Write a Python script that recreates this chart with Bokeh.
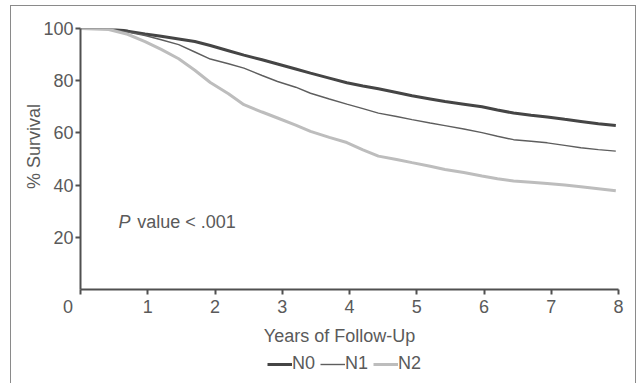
from bokeh.plotting import figure
from bokeh.models import Legend, LegendItem, Label, FixedTicker, Range1d
from bokeh.layouts import column
from bokeh.embed import file_html
from bokeh.resources import INLINE

years = [0, 0.42, 0.7, 0.96, 1.2, 1.46, 1.7, 1.93, 2.2, 2.43, 2.7, 2.93, 3.2, 3.42, 3.7, 3.96,
         4.2, 4.43, 4.7, 4.93, 5.2, 5.42, 5.7, 5.97, 6.2, 6.44, 6.7, 6.94, 7.2, 7.44, 7.7, 7.96]
n0 = [100, 100, 99.0, 97.9, 97.0, 96.0, 95.0, 93.5, 91.5, 89.8, 88.0, 86.4, 84.5, 82.9, 81.0, 79.2,
      78.0, 76.9, 75.5, 74.2, 73.0, 72.0, 71.0, 70.0, 68.8, 67.6, 66.8, 66.1, 65.2, 64.4, 63.5, 62.8]
n1 = [100, 99.8, 98.6, 97.3, 95.7, 93.8, 91.0, 88.3, 86.5, 84.8, 82.0, 79.7, 77.5, 75.2, 73.0, 71.0,
      69.3, 67.6, 66.3, 65.1, 63.8, 62.8, 61.5, 60.1, 58.7, 57.4, 56.8, 56.2, 55.2, 54.3, 53.6, 53.0]
n2 = [100, 99.6, 97.8, 95.0, 92.0, 88.4, 84.0, 79.3, 75.0, 70.8, 68.0, 65.7, 63.0, 60.6, 58.3, 56.3,
      53.5, 51.1, 49.8, 48.6, 47.2, 46.0, 44.8, 43.5, 42.4, 41.6, 41.1, 40.6, 40.0, 39.4, 38.6, 37.8]
series_names = ["N0", "N1", "N2"]
series_colors = ["#454545", "#5e5e5e", "#bdbdbd"]
series_widths = [3, 1.4, 3]
x_ticks = [0, 1, 2, 3, 4, 5, 6, 7, 8]
y_ticks = [20, 40, 60, 80, 100]

FONT = "Liberation Sans"
TXT = "#5a5a5a"
AX = "#505050"
NB = "\u00a0"

p = figure(width=624, height=342, output_backend="svg", toolbar_location=None,
           x_range=Range1d(0, 8), y_range=Range1d(0, 100),
           min_border_left=69, min_border_right=17, min_border_top=22, min_border_bottom=57,
           background_fill_color="white", border_fill_color="white")
p.outline_line_color = None
p.grid.visible = False

for ys, name, c, w in zip([n0, n1, n2], series_names, series_colors, series_widths):
    p.line(years, ys, line_color=c, line_width=w)

def style(ax):
    ax.axis_line_color = AX
    ax.axis_line_width = 2
    ax.major_tick_line_color = AX
    ax.major_tick_line_width = 2
    ax.major_tick_in = 0
    ax.major_tick_out = 5
    ax.minor_tick_line_color = None
    ax.major_label_text_font = FONT
    ax.major_label_text_font_size = "18px"
    ax.major_label_text_color = TXT
    ax.axis_label_text_font = FONT
    ax.axis_label_text_font_size = "18px"
    ax.axis_label_text_font_style = "normal"
    ax.axis_label_text_color = TXT

style(p.xaxis[0])
style(p.yaxis[0])
p.xaxis.ticker = FixedTicker(ticks=x_ticks)
p.yaxis.ticker = FixedTicker(ticks=y_ticks)
# origin label sits left of the corner, as in the original
p.xaxis.major_label_overrides = {0: "0" + NB * 5}
p.xaxis.axis_label = "Years of Follow-Up" + NB * 4
p.yaxis.axis_label = NB * 5 + "% Survival"
p.xaxis.major_label_standoff = 2
p.xaxis.axis_label_standoff = 6
p.yaxis.major_label_standoff = 2
p.yaxis.axis_label_standoff = -4

pl = Label(x=0.565, y=25.8, text="P", text_font=FONT, text_font_size="18px",
           text_font_style="italic", text_color=TXT, text_baseline="middle")
pv = Label(x=0.843, y=25.8, text="value < .001", text_font=FONT, text_font_size="18px",
           text_color=TXT, text_baseline="middle")
p.add_layout(pl)
p.add_layout(pv)

# legend strip (series drawn off-range so only the legend is visible)
q = figure(width=624, height=35, output_backend="svg", toolbar_location=None,
           x_range=Range1d(0, 8), y_range=Range1d(200, 300),
           min_border=0, background_fill_color="white", border_fill_color="white")
q.outline_line_color = None
q.grid.visible = False
q.axis.visible = False
items = []
for ys, name, c, w in zip([n0, n1, n2], series_names, series_colors, series_widths):
    r = q.line(years, ys, line_color=c, line_width=w)
    items.append(LegendItem(label=name, renderers=[r]))
legend = Legend(items=items, orientation="horizontal", location=(187, 9),
                label_text_font=FONT, label_text_font_size="18px", label_text_color=TXT,
                glyph_width=25, label_standoff=0, spacing=5, padding=1, margin=0,
                border_line_color=None, background_fill_alpha=0)
q.add_layout(legend)

page = column(p, q, spacing=0,
              styles={"margin-left": "10px", "margin-top": "5px",
                      "border-top": "1px solid #8a8a8a", "border-left": "1px solid #8a8a8a",
                      "border-right": "1px solid #8a8a8a"})

open("out.html", "w").write(file_html(page, INLINE))
